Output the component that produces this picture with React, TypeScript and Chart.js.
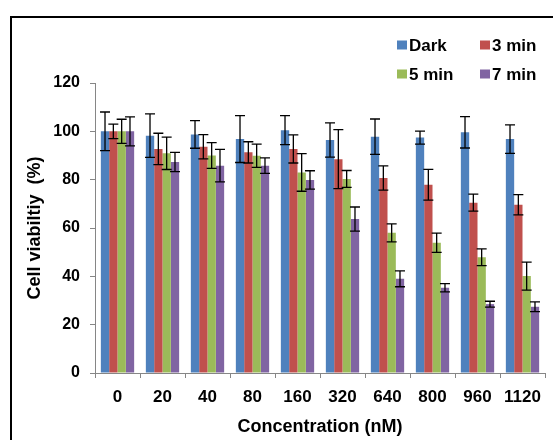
import React, { useEffect, useRef } from "react";
import { Chart, registerables } from "chart.js";

Chart.register(...registerables);

const categories = ["0", "20", "40", "80", "160", "320", "640", "800", "960", "1120"];
const seriesLabels = ["Dark", "3 min", "5 min", "7 min"];
const dark = [100, 98.2, 98.7, 96.8, 100.5, 96.4, 97.8, 97.4, 99.6, 96.8];
const darkErr = [8, 9, 5.7, 9.7, 6, 7.1, 7.3, 2.7, 6.5, 5.9];
const min3 = [100, 92.7, 93.6, 91.3, 92.7, 88.5, 80.7, 77.9, 70.5, 69.6];
const min3Err = [3, 6.5, 5, 4.4, 5.8, 12.2, 5, 6.4, 3.5, 4.2];
const min5 = [100, 90.9, 90, 89.9, 83, 80.3, 58, 53.9, 47.9, 40.1];
const min5Err = [5, 6.7, 5.3, 4.8, 7.8, 3.5, 3.7, 4, 3.5, 5.8];
const min7 = [100, 87.3, 85.8, 85.8, 79.9, 63.7, 39, 35.3, 28.5, 27.4];
const min7Err = [6, 4, 6.7, 3.2, 3.8, 5, 3.3, 1.7, 1.2, 2];
const colors = ["#4F81BD", "#C0504D", "#9BBB59", "#8064A2"];

const seriesValues = [dark, min3, min5, min7];
const seriesErrors = [darkErr, min3Err, min5Err, min7Err];

const FONT = "'Liberation Sans', Arial, sans-serif";
const AXIS_GRAY = "#868686";

const errorBarPlugin = {
  id: "errorBars",
  afterDatasetsDraw(chart: any) {
    const { ctx } = chart;
    const yScale = chart.scales.y;
    ctx.save();
    ctx.strokeStyle = "#000";
    ctx.lineWidth = 1.3;
    chart.data.datasets.forEach((ds: any, i: number) => {
      const meta = chart.getDatasetMeta(i);
      const errs = seriesErrors[i];
      meta.data.forEach((bar: any, j: number) => {
        const v = ds.data[j];
        const e = errs[j];
        const x = bar.x;
        const yt = yScale.getPixelForValue(v + e);
        const yb = yScale.getPixelForValue(v - e);
        const hw = 5;
        ctx.beginPath();
        ctx.moveTo(x, yt);
        ctx.lineTo(x, yb);
        ctx.moveTo(x - hw, yt);
        ctx.lineTo(x + hw, yt);
        ctx.moveTo(x - hw, yb);
        ctx.lineTo(x + hw, yb);
        ctx.stroke();
      });
    });
    ctx.restore();
  },
};

const frameAndLegendPlugin = {
  id: "frameLegend",
  afterDraw(chart: any) {
    const { ctx } = chart;
    ctx.save();
    // frame
    ctx.strokeStyle = "#000";
    ctx.lineWidth = 2;
    ctx.beginPath();
    ctx.moveTo(11, 445);
    ctx.lineTo(11, 17);
    ctx.lineTo(560, 17);
    ctx.stroke();
    // legend
    const colX = [397, 480];
    const rowY = [45, 74];
    ctx.font = `bold 17px ${FONT}`;
    ctx.textBaseline = "middle";
    ctx.textAlign = "left";
    chart.data.datasets.forEach((ds: any, i: number) => {
      const cx = colX[i % 2];
      const cy = rowY[Math.floor(i / 2)];
      ctx.fillStyle = ds.backgroundColor;
      ctx.fillRect(cx, cy - 4.5, 10, 9);
      ctx.fillStyle = "#000";
      ctx.fillText(ds.label, cx + 12, cy + 1);
    });
    ctx.restore();
  },
};

export default function App() {
  const ref = useRef<HTMLCanvasElement | null>(null);
  useEffect(() => {
    if (!ref.current) return;
    Chart.defaults.font.family = FONT;
    const chart = new Chart(ref.current, {
      type: "bar",
      data: {
        labels: categories,
        datasets: seriesLabels.map((label, i) => ({
          label,
          data: seriesValues[i],
          backgroundColor: colors[i],
          borderWidth: 0,
          categoryPercentage: 0.74,
          barPercentage: 1.0,
        })),
      },
      options: {
        animation: false,
        responsive: false,
        maintainAspectRatio: false,
        layout: { padding: { top: 83, right: 8, left: 0, bottom: 0 } },
        plugins: {
          legend: { display: false },
          tooltip: { enabled: false },
        },
        scales: {
          x: {
            grid: {
              display: true,
              drawOnChartArea: false,
              drawTicks: true,
              tickLength: 5,
              color: AXIS_GRAY,
              offset: true,
            },
            border: { display: true, color: AXIS_GRAY },
            ticks: {
              color: "#000",
              font: { size: 17, weight: "bold", family: FONT },
              padding: 9,
              maxRotation: 0,
              autoSkip: false,
            },
            title: {
              display: true,
              text: "Concentration (nM)",
              color: "#000",
              font: { size: 18, weight: "bold", family: FONT },
              padding: { top: 0, bottom: 2 },
            },
            afterFit: (scale: any) => {
              scale.height = 67;
            },
          },
          y: {
            min: 0,
            max: 120,
            ticks: {
              stepSize: 20,
              color: "#000",
              font: { size: 16, weight: "bold", family: FONT },
              padding: 10,
            },
            grid: {
              display: true,
              drawOnChartArea: false,
              drawTicks: true,
              tickLength: 5,
              color: AXIS_GRAY,
            },
            border: { display: true, color: AXIS_GRAY },
            title: {
              display: true,
              text: "Cell viabiltiy  (%)",
              color: "#000",
              font: { size: 18, weight: "bold", family: FONT },
              padding: { top: 24, bottom: 0 },
            },
            afterFit: (scale: any) => {
              scale.width = 95;
            },
          },
        },
      },
      plugins: [errorBarPlugin, frameAndLegendPlugin],
    });
    return () => chart.destroy();
  }, []);
  return (
    <div style={{ position: "absolute", left: 0, top: 0, width: 553, height: 440, overflow: "hidden", background: "#fff" }}>
      <canvas ref={ref} width={553} height={440} style={{ display: "block", width: 553, height: 440 }} />
    </div>
  );
}
